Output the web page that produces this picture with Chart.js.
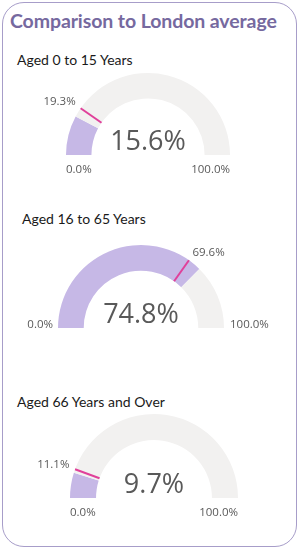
<!DOCTYPE html>
<html><head><meta charset="utf-8">
<script src="https://cdn.jsdelivr.net/npm/chart.js@4/dist/chart.umd.min.js"></script>
<style>
html,body{margin:0;padding:0;background:#fff;width:300px;height:551px;overflow:hidden;}
#frame{position:absolute;left:2px;top:2px;width:293px;height:543px;border:1.5px solid #a79dc9;border-radius:22px;}
.t{position:absolute;font-family:Lato,"Open Sans",sans-serif;white-space:nowrap;}
#title{left:10px;top:9px;font-size:19.5px;font-weight:bold;color:#76699f;letter-spacing:-0.1px;}
.sub{font-size:14px;color:#1a1a1a;font-weight:400;}
canvas{position:absolute;left:0;}
</style></head>
<body>
<div id="frame"></div>
<div class="t" id="title">Comparison to London average</div>
<div class="t sub" style="left:17px;top:51px">Aged 0 to 15 Years</div>
<div class="t sub" style="left:22px;top:210px">Aged 16 to 65 Years</div>
<div class="t sub" style="left:17px;top:393px">Aged 66 Years and Over</div>
<canvas id="g1" width="300" height="130" style="top:50px"></canvas>
<canvas id="g2" width="300" height="130" style="top:225px"></canvas>
<canvas id="g3" width="300" height="130" style="top:395px"></canvas>
<script>
const categories = ["Aged 0 to 15 Years", "Aged 16 to 65 Years", "Aged 66 Years and Over"];
const areaValues = [15.6, 74.8, 9.7];
const londonValues = [19.3, 69.6, 11.1];
const scaleMin = [0, 0, 0];
const scaleMax = [100, 100, 100];

const layouts = [
  {id:'g1', cx:148, cy:155, r:82, top:50, side:false},
  {id:'g2', cx:141, cy:328, r:83, top:225, side:true},
  {id:'g3', cx:154, cy:498, r:84, top:395, side:false}
];

const fmt = v => v.toFixed(1) + '%';

const gaugePlugin = {
  id: 'gaugeDeco',
  afterDatasetsDraw(chart, args, opts) {
    const ctx = chart.ctx;
    const arc = chart.getDatasetMeta(0).data[0];
    const {x, y, innerRadius, outerRadius, startAngle} = arc.getProps(['x','y','innerRadius','outerRadius','startAngle']);
    const i = opts.index;
    const minV = scaleMin[i], maxV = scaleMax[i];
    const frac = (londonValues[i] - minV) / (maxV - minV);
    const ang = startAngle + frac * Math.PI;
    const c = Math.cos(ang), s = Math.sin(ang);
    ctx.save();
    ctx.strokeStyle = '#e0409a';
    ctx.lineWidth = 2;
    ctx.beginPath();
    ctx.moveTo(x + c * (innerRadius), y + s * (innerRadius));
    ctx.lineTo(x + c * (outerRadius), y + s * (outerRadius));
    ctx.stroke();
    // reference label
    ctx.fillStyle = '#595959';
    ctx.font = '11.5px "Open Sans", sans-serif';
    ctx.textBaseline = 'middle';
    const lr = outerRadius + 6;
    const lx = x + c * lr, ly = y + s * lr - 3;
    ctx.textAlign = c < 0 ? 'right' : 'left';
    ctx.fillText(fmt(londonValues[i]), lx, ly);
    // min / max labels
    if (opts.side) {
      ctx.textAlign = 'right';
      ctx.fillText(fmt(minV), x - outerRadius - 5, y - 3);
      ctx.textAlign = 'left';
      ctx.fillText(fmt(maxV), x + outerRadius + 6, y - 3);
    } else {
      ctx.textAlign = 'left';
      ctx.fillText(fmt(minV), x - outerRadius, y + 15);
      ctx.textAlign = 'right';
      ctx.fillText(fmt(maxV), x + outerRadius, y + 15);
    }
    // value
    ctx.font = '27px "Open Sans", sans-serif';
    ctx.textAlign = 'center';
    ctx.textBaseline = 'alphabetic';
    ctx.fillText(fmt(areaValues[i]), x, y - 5);
    ctx.restore();
  }
};

layouts.forEach((L, i) => {
  const cv = document.getElementById(L.id);
  const localCy = L.cy - L.top;
  new Chart(cv, {
    type: 'doughnut',
    data: {
      labels: [categories[i], 'Remainder'],
      datasets: [{
        data: [areaValues[i] - scaleMin[i], scaleMax[i] - areaValues[i]],
        backgroundColor: ['#c6b8e6', '#f2f1f0'],
        borderWidth: 0
      }]
    },
    options: {
      responsive: false,
      animation: false,
      rotation: -90,
      circumference: 180,
      cutout: '69%',
      layout: {padding: {left: L.cx - L.r, right: 300 - (L.cx + L.r), top: localCy - L.r, bottom: 130 - localCy}},
      plugins: {legend: {display: false}, tooltip: {enabled: false}, gaugeDeco: {index: i, side: L.side}}
    },
    plugins: [gaugePlugin]
  });
});
</script>
</body></html>
